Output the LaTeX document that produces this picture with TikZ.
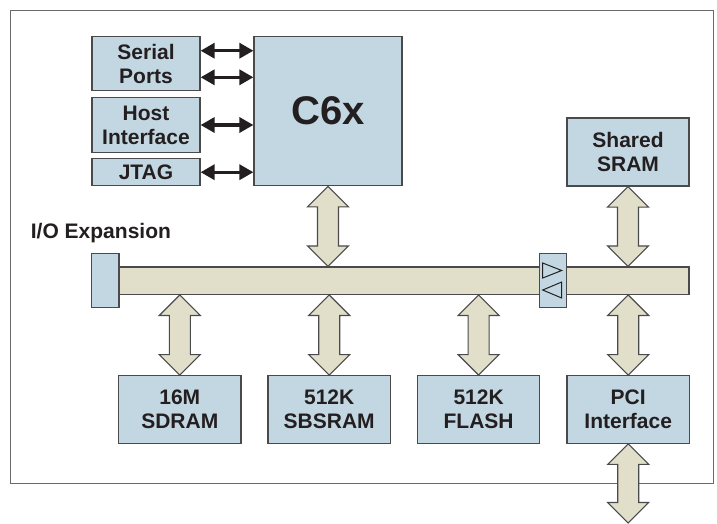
\documentclass[tikz,border=0pt]{standalone}
\usepackage{fontspec}
\setmainfont{Liberation Sans}
\usetikzlibrary{arrows.meta,calc}
\definecolor{boxblue}{HTML}{C3D7E2}
\definecolor{edgegray}{HTML}{4A4A4C}
\definecolor{busbeige}{HTML}{E1DFCA}
\definecolor{txt}{HTML}{231F20}
\definecolor{framegray}{HTML}{6A6A6A}
\newcommand\fatarrow[2]{%
  \draw[fatarr] let \p1=(#1), \p2=(#2) in
    (\x1,\y1) -- (\x1+20.5pt,\y1-20.5pt) -- (\x1+10.5pt,\y1-20.5pt)
    -- (\x1+10.5pt,\y2+20.5pt) -- (\x1+20.5pt,\y2+20.5pt) -- (\x1,\y2)
    -- (\x1-20.5pt,\y2+20.5pt) -- (\x1-10.5pt,\y2+20.5pt)
    -- (\x1-10.5pt,\y1-20.5pt) -- (\x1-20.5pt,\y1-20.5pt) -- cycle;}
\begin{document}
\begin{tikzpicture}[x=1pt,y=-1pt,
  blk/.style={draw=edgegray,line width=1.2pt,fill=boxblue,text=txt,
    font=\fontsize{21}{24}\selectfont\bfseries,align=center,inner sep=0pt},
  busbar/.style={draw=edgegray,line width=1.2pt,fill=busbeige,inner sep=0pt},
  fatarr/.style={draw=edgegray,line width=1.1pt,fill=busbeige,line join=miter},
  blkarr/.style={line width=3.3pt,draw=txt,
    {Triangle[length=14pt,width=15pt]}-{Triangle[length=14pt,width=15pt]}},
  tri/.style={draw=txt,line width=1pt,line join=miter},
  lbl/.style={text=txt,font=\fontsize{21}{24}\selectfont\bfseries,inner sep=0pt}
  ]
\useasboundingbox (0,0) rectangle (717,523);
\fill[white] (0,0) rectangle (717,523);
\draw[framegray,line width=1pt] (10.7,10) rectangle (713,483);

% bus
\node[busbar,minimum width=570pt,minimum height=27.3pt] (bus) at (404,280.7) {};

% top blocks
\node[blk,minimum width=108pt,minimum height=54pt] (serial) at (146,63.7) {Serial\\Ports};
\node[blk,minimum width=108pt,minimum height=54.6pt] (host) at (146,125) {Host\\Interface};
\node[blk,minimum width=108pt,minimum height=27pt] (jtag) at (146,172.2) {JTAG};
\node[blk,minimum width=148pt,minimum height=149pt,
      font=\fontsize{40}{44}\selectfont\bfseries] (c6x) at (328,111.2) {C6x};
\node[blk,minimum width=122pt,minimum height=68pt] (shared) at (628,152) {Shared\\SRAM};

% bottom blocks
\node[blk,minimum width=122.5pt,minimum height=67.6pt] (sdram) at (179.8,409.5) {16M\\SDRAM};
\node[blk,minimum width=122.5pt,minimum height=67.6pt] (sbsram) at (329.2,409.5) {512K\\SBSRAM};
\node[blk,minimum width=122.5pt,minimum height=67.6pt] (flash) at (478.6,409.5) {512K\\FLASH};
\node[blk,minimum width=122.5pt,minimum height=67.6pt] (pci) at (628.2,409.5) {PCI\\Interface};

% I/O expansion and buffer
\node[blk,minimum width=27.3pt,minimum height=54.4pt] (io) at (105.3,280.5) {};
\node[lbl,anchor=west] (iolabel) at (30.7,233) {I/O Expansion};
\node[blk,minimum width=27pt,minimum height=54pt] (buf) at (553,280.8) {};
\draw[tri] ($(buf)+(-10.3,-17.8)$) -- ($(buf)+(8.7,-10.3)$) -- ($(buf)+(-10.3,-2.8)$) -- cycle;
\draw[tri] ($(buf)+(8.7,1.2)$) -- ($(buf)+(-10.3,9.2)$) -- ($(buf)+(8.7,17.2)$) -- cycle;

% black arrows
\draw[blkarr] ([yshift=13pt]serial.east) -- ([yshift=13pt]serial.east -| c6x.west);
\draw[blkarr] ([yshift=-13.6pt]serial.east) -- ([yshift=-13.6pt]serial.east -| c6x.west);
\draw[blkarr] (host.east) -- (host.east -| c6x.west);
\draw[blkarr] (jtag.east) -- (jtag.east -| c6x.west);

% fat arrows
\fatarrow{c6x.south}{c6x.south |- bus.north}
\fatarrow{shared.south}{shared.south |- bus.north}
\fatarrow{sdram.north |- bus.south}{sdram.north}
\fatarrow{sbsram.north |- bus.south}{sbsram.north}
\fatarrow{flash.north |- bus.south}{flash.north}
\fatarrow{pci.north |- bus.south}{pci.north}
\coordinate (pciout) at (628.2,523);
\fatarrow{pci.south}{pciout}
\end{tikzpicture}
\end{document}
